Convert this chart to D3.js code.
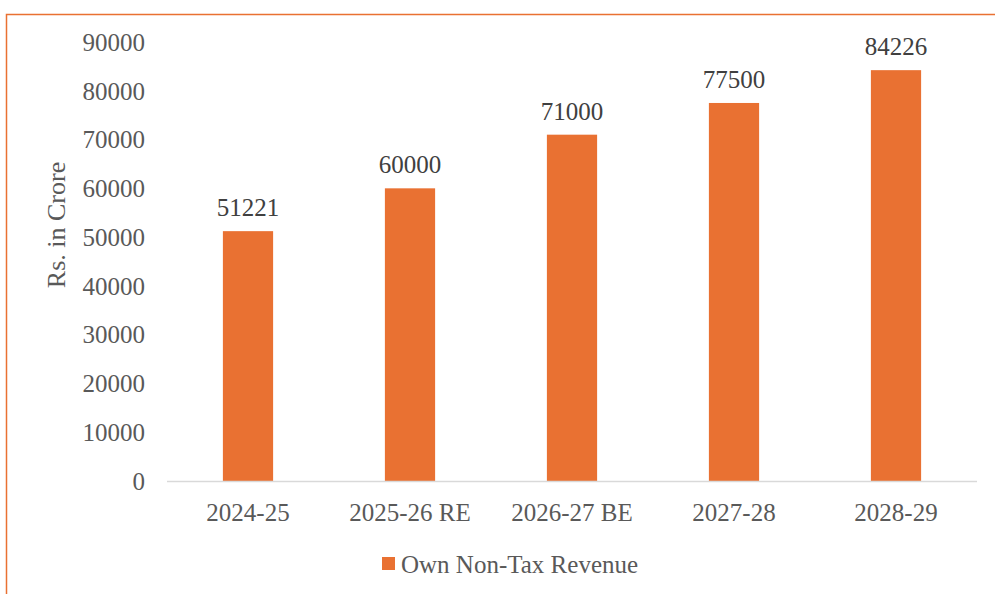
<!DOCTYPE html>
<html>
<head>
<meta charset="utf-8">
<script src="https://cdn.jsdelivr.net/npm/d3@7"></script>
<style>
  body { margin: 0; background: #fff; }
  svg text { font-family: "Liberation Serif", "DejaVu Serif", serif; }
</style>
</head>
<body>
<div id="chart"></div>
<script>
// chart data
var categories = ["2024-25", "2025-26 RE", "2026-27 BE", "2027-28", "2028-29"];
var values = [51221, 60000, 71000, 77500, 84226];
var yTicks = [0, 10000, 20000, 30000, 40000, 50000, 60000, 70000, 80000, 90000];
var seriesName = "Own Non-Tax Revenue";

var W = 995, H = 594;
var BAR = "#E97132";

var svg = d3.select("#chart")
  .append("svg")
    .attr("width", W)
    .attr("height", H);

// outer chart border (only top and left visible)
svg.append("rect")
  .attr("x", 6.5)
  .attr("y", 14.5)
  .attr("width", W + 20)
  .attr("height", H + 20)
  .attr("fill", "none")
  .attr("stroke", BAR)
  .attr("stroke-width", 1.5);

var plotLeft = 167, plotRight = 977, plotTop = 42, plotBottom = 481;

var x = d3.scaleBand()
  .domain(categories)
  .range([plotLeft, plotRight])
  .paddingInner(0.69)
  .paddingOuter(0.345);

var y = d3.scaleLinear()
  .domain([0, 90000])
  .range([plotBottom, plotTop]);

// y tick labels
svg.append("g")
  .selectAll("text")
  .data(yTicks)
  .enter()
  .append("text")
    .attr("x", 145)
    .attr("y", function(d) { return y(d); })
    .attr("dy", "0.35em")
    .attr("text-anchor", "end")
    .attr("font-size", 25)
    .attr("fill", "#595959")
    .text(function(d) { return d; });

// axis title
svg.append("text")
  .attr("transform", "translate(56,225) rotate(-90)")
  .attr("dy", "0.35em")
  .attr("text-anchor", "middle")
  .attr("font-size", 26)
  .attr("fill", "#595959")
  .text("Rs. in Crore");

// bars
svg.append("g")
  .selectAll("rect")
  .data(values)
  .enter()
  .append("rect")
    .attr("x", function(d, i) { return x(categories[i]); })
    .attr("y", function(d) { return y(d); })
    .attr("width", x.bandwidth())
    .attr("height", function(d) { return y(0) - y(d); })
    .attr("fill", BAR);

// baseline
svg.append("line")
  .attr("x1", plotLeft)
  .attr("x2", plotRight)
  .attr("y1", plotBottom + 0.5)
  .attr("y2", plotBottom + 0.5)
  .attr("stroke", "#D9D9D9")
  .attr("stroke-width", 1.5);

// value labels
svg.append("g")
  .selectAll("text")
  .data(values)
  .enter()
  .append("text")
    .attr("x", function(d, i) { return x(categories[i]) + x.bandwidth() / 2; })
    .attr("y", function(d) { return y(d) - 15; })
    .attr("text-anchor", "middle")
    .attr("font-size", 25)
    .attr("fill", "#404040")
    .text(function(d) { return d; });

// category labels
svg.append("g")
  .selectAll("text")
  .data(categories)
  .enter()
  .append("text")
    .attr("x", function(d) { return x(d) + x.bandwidth() / 2; })
    .attr("y", 512)
    .attr("dy", "0.35em")
    .attr("text-anchor", "middle")
    .attr("font-size", 25)
    .attr("fill", "#595959")
    .text(function(d) { return d; });

// legend
var legend = svg.append("g");
legend.append("rect")
  .attr("x", 382)
  .attr("y", 557)
  .attr("width", 13)
  .attr("height", 13)
  .attr("fill", BAR);
legend.append("text")
  .attr("x", 401)
  .attr("y", 564)
  .attr("dy", "0.35em")
  .attr("font-size", 25)
  .attr("fill", "#595959")
  .text(seriesName);
</script>
</body>
</html>
